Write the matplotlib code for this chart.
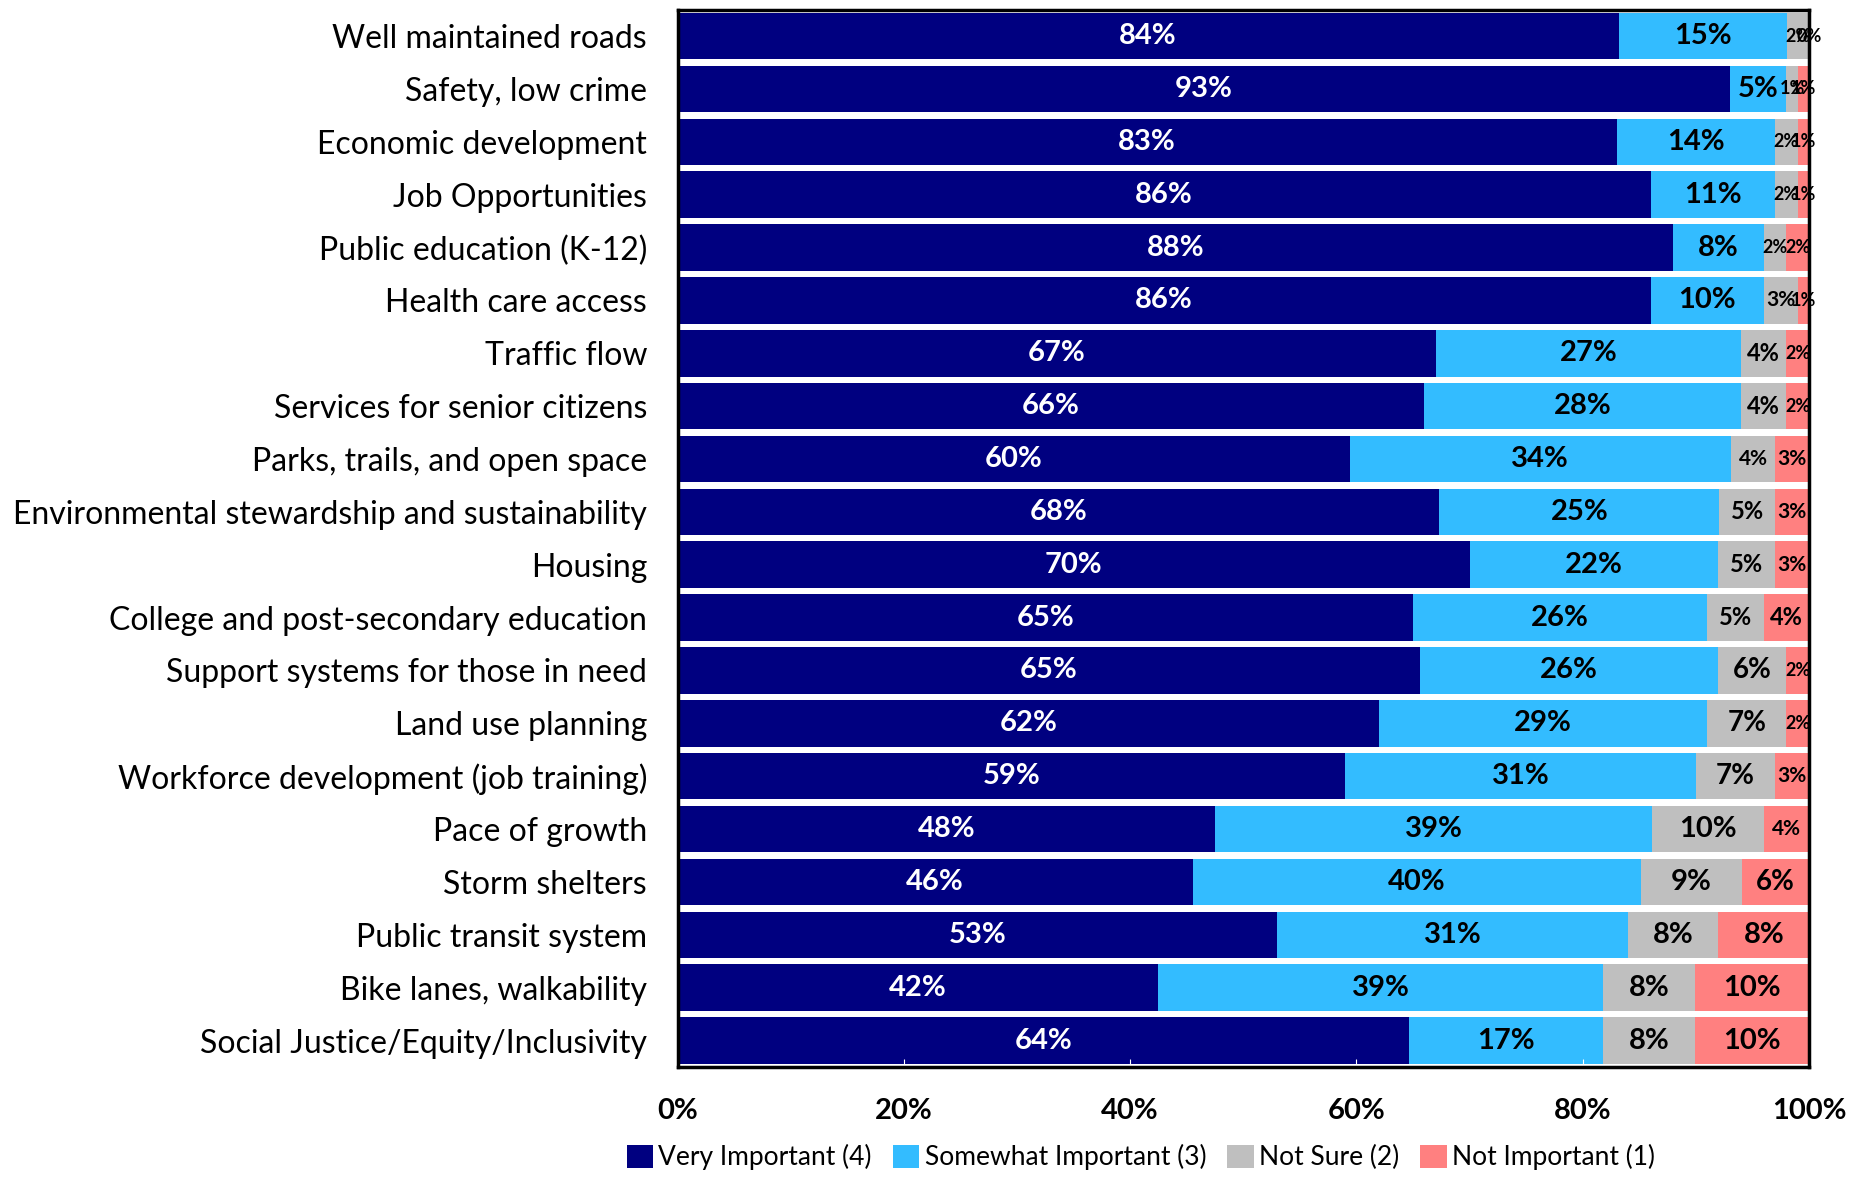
import matplotlib.pyplot as plt
import numpy as np

plt.rcParams['font.family'] = ['Lato', 'DejaVu Sans']

categories = ['Well maintained roads', 'Safety, low crime', 'Economic development',
              'Job Opportunities', 'Public education (K-12)', 'Health care access',
              'Traffic flow', 'Services for senior citizens', 'Parks, trails, and open space',
              'Environmental stewardship and sustainability', 'Housing',
              'College and post-secondary education', 'Support systems for those in need',
              'Land use planning', 'Workforce development (job training)', 'Pace of growth',
              'Storm shelters', 'Public transit system', 'Bike lanes, walkability',
              'Social Justice/Equity/Inclusivity']
very = [84, 93, 83, 86, 88, 86, 67, 66, 60, 68, 70, 65, 65, 62, 59, 48, 46, 53, 42, 64]
somewhat = [15, 5, 14, 11, 8, 10, 27, 28, 34, 25, 22, 26, 26, 29, 31, 39, 40, 31, 39, 17]
not_sure = [2, 1, 2, 2, 2, 3, 4, 4, 4, 5, 5, 5, 6, 7, 7, 10, 9, 8, 8, 8]
not_imp = [0, 1, 1, 1, 2, 1, 2, 2, 3, 3, 3, 4, 2, 2, 3, 4, 6, 8, 10, 10]

series = [('Very Important (4)', very, '#000080', 'white'),
          ('Somewhat Important (3)', somewhat, '#33BCFF', 'black'),
          ('Not Sure (2)', not_sure, '#BFBFBF', 'black'),
          ('Not Important (1)', not_imp, '#FF8080', 'black')]

fig = plt.figure(figsize=(18.64, 11.8), dpi=100)
ax = fig.add_axes([0.3635, 0.0958, 0.607, 0.896])

vals = np.array([s[1] for s in series], dtype=float)
shares = vals / vals.sum(axis=0)
y = np.arange(len(categories))
left = np.zeros(len(categories))
for k, ((name, v, col, tcol), sh) in enumerate(zip(series, shares)):
    ax.barh(y, sh, left=left, height=0.88, color=col, label=name)
    for i in range(len(y)):
        w = sh[i]
        if k < 2 or w >= 0.075:
            fs = 21
        elif w >= 0.055:
            fs = 20
        elif w >= 0.04:
            fs = 17
        elif w >= 0.025:
            fs = 15
        else:
            fs = 13
        ax.text(left[i] + w / 2, y[i], f'{v[i]}%', ha='center', va='center',
                color=tcol, fontsize=fs, fontweight='bold')
    left += sh

ax.set_ylim(len(categories) - 0.5, -0.5)
ax.set_xlim(0, 1)
ax.set_yticks(y)
ax.set_yticklabels(categories, fontsize=23)
ax.set_xticks(np.linspace(0, 1, 6))
ax.set_xticklabels([f'{int(t)}%' for t in np.linspace(0, 100, 6)], fontsize=21, fontweight='bold')
ax.tick_params(axis='y', length=0, pad=22)
ax.tick_params(axis='x', direction='in', length=6, pad=22, color='white')
for s in ax.spines.values():
    s.set_linewidth(2.5)
    s.set_color('black')

fig.legend(loc='lower center', bbox_to_anchor=(0.612, -0.012), ncol=4, frameon=False,
           fontsize=19, handlelength=1.0, handleheight=1.0, handletextpad=0.2, columnspacing=0.8)

fig.savefig('out.png', dpi=100)
